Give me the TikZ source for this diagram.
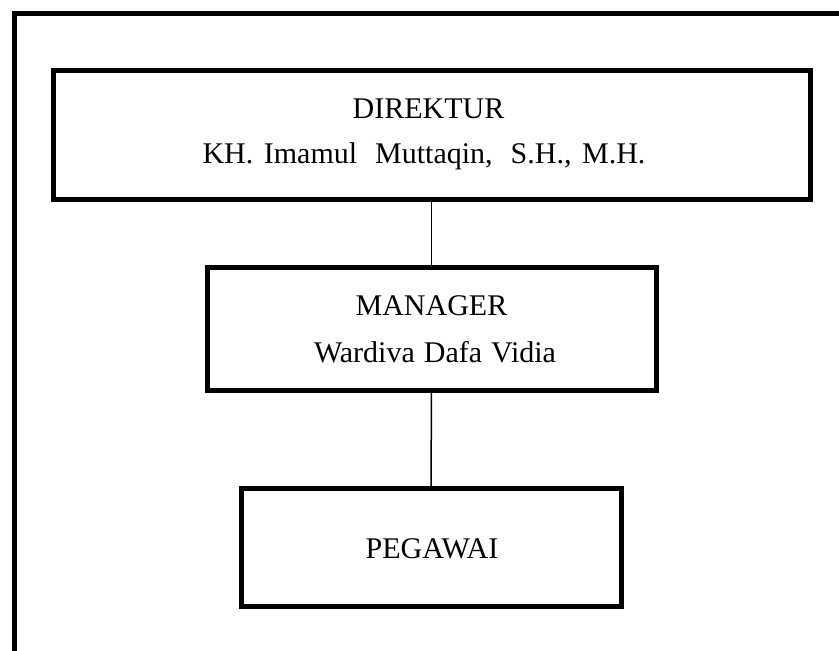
\documentclass[tikz,border=0pt]{standalone}
\usepackage{fontspec}
\setmainfont{Liberation Serif}
\begin{document}
\begin{tikzpicture}[x=1pt,y=-1pt,
  orgbox/.style={draw=black,line width=5pt,minimum width=#1,inner sep=0pt,outer sep=0pt},
  lbl/.style={anchor=base,inner sep=0pt,font=\fontsize{30}{36}\selectfont},
  link/.style={draw=black,line width=1.5pt}]
\useasboundingbox (0,0) rectangle (839,651);
\fill[white] (0,0) rectangle (839,651);
% outer frame (only left and top edges visible)
\coordinate (fbl) at (14,653);
\coordinate (ftl) at (14,13);
\coordinate (ftr) at (841,13);
\draw[line width=5pt,line join=miter] (fbl) -- (ftl) -- (ftr);
% boxes
\node[orgbox=757pt,minimum height=129pt] (dir) at (431.5,134.5) {};
\node[orgbox=449pt,minimum height=123pt] (man) at (431.5,328.5) {};
\node[orgbox=380pt,minimum height=118pt] (peg) at (431,547) {};
% texts
\node[lbl] (t1) at (428.5,118) {DIREKTUR};
\node[lbl] (t2) at (424,163) {KH.\hspace{10.5pt}Imamul\hspace{18pt}Muttaqin,\hspace{18pt}S.H.,\hspace{10.5pt}M.H.};
\node[lbl] (t3) at (431.5,315) {MANAGER};
\node[lbl] (t4) at (435,362) {Wardiva\hspace{9pt}Dafa\hspace{9pt}Vidia};
\node[lbl] (t5) at (432,558) {PEGAWAI};
% connectors
\draw[link] (dir.south) -- (man.north);
\draw[link] (man.south) -- (peg.north);
\end{tikzpicture}
\end{document}
